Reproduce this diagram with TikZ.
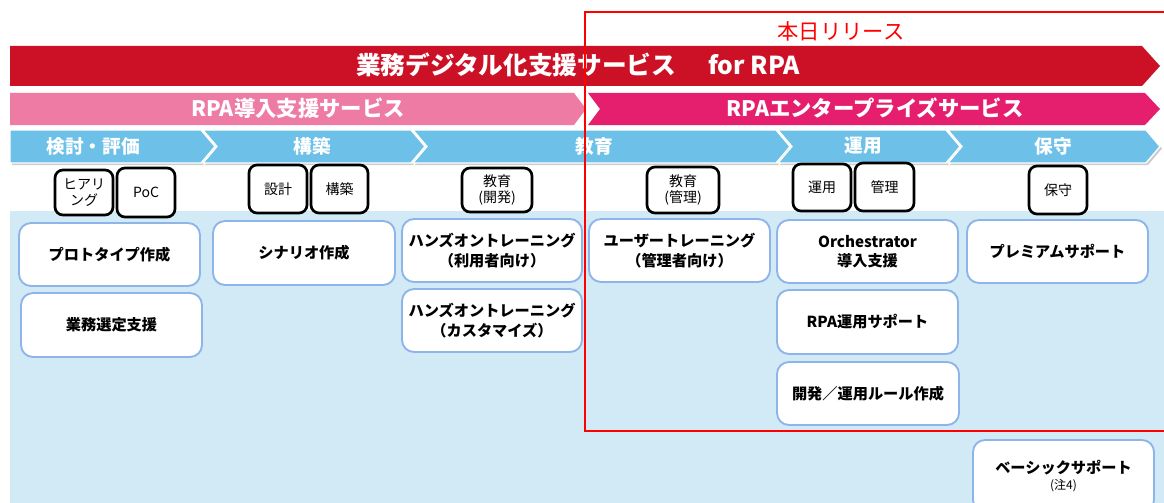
\documentclass[tikz,border=0pt]{standalone}
\usepackage{fontspec}
\setmainfont{Noto Sans CJK JP}
\definecolor{bandred}{HTML}{CC1126}
\definecolor{bandpink}{HTML}{EE7BA4}
\definecolor{bandmag}{HTML}{E51F6D}
\definecolor{chevblue}{HTML}{6DC0E8}
\definecolor{areablue}{HTML}{D1EAF6}
\definecolor{boxline}{HTML}{8EB5EA}
\definecolor{relred}{HTML}{FF0000}
\tikzset{
  bandtext/.style={text=white, font=\bfseries\fontsize{18.5}{20}\selectfont, inner sep=0pt},
  subtext/.style={text=white, font=\bfseries\fontsize{16}{18}\selectfont, inner sep=0pt},
  chevtext/.style={text=white, font=\bfseries\fontsize{14}{16}\selectfont, inner sep=0pt},
  chev/.style={fill=chevblue, draw=white, line width=1pt},
  chevshadow/.style={fill=black!20},
  wbox/.style={draw=boxline, fill=white, line width=1.4pt, rounded corners=9pt, inner sep=0pt, outer sep=0pt, align=center, font=\bfseries\fontsize{11.4}{14.5}\selectfont},
  kbox/.style={draw=black, fill=white, line width=2pt, rounded corners=6pt, inner sep=0pt, outer sep=0pt, align=center, font=\fontsize{10.5}{12}\selectfont},
}
\newcommand\wbox[6]{\node[wbox, minimum width={(#4-#2)*0.75pt}, minimum height={(#5-#3)*0.75pt}] (#1) at ({(#2+#4)/2},{(#3+#5)/2}) {#6};}
\newcommand\kbox[6]{\node[kbox, minimum width={(#4-#2)*0.75pt}, minimum height={(#5-#3)*0.75pt}] (#1) at ({(#2+#4)/2},{(#3+#5)/2}) {#6};}
\begin{document}
\begin{tikzpicture}[x=0.75pt,y=-0.75pt]
\useasboundingbox (0,0) rectangle (1164,503);
\fill[white] (0,0) rectangle (1164,503);
% light blue area
\fill[areablue] (10,211) rectangle (1164,503);
% main red band
\fill[bandred] (10,46) -- (1142,46) -- (1160,66) -- (1142,86) -- (10,86) -- cycle;
\node[bandtext] (title) at (578,65) {業務デジタル化支援サービス\hspace{1.3em}for RPA};
% pink and magenta bands
\fill[bandpink] (10,93) -- (574,93) -- (586,109) -- (574,125) -- (10,125) -- cycle;
\node[subtext] (intro) at (298,108) {RPA導入支援サービス};
\fill[bandmag] (588,93) -- (1145,93) -- (1160,109) -- (1145,125) -- (588,125) -- (600,109) -- cycle;
\node[subtext] (ent) at (875,108) {RPAエンタープライズサービス};
% blue chevrons (shadows)
\begin{scope}[shift={(2,2)}]
\fill[chevshadow] (10,130) -- (201,130) -- (215,146.5) -- (201,163) -- (10,163) -- cycle;
\fill[chevshadow] (203,130) -- (411,130) -- (425,146.5) -- (411,163) -- (203,163) -- (217,146.5) -- cycle;
\fill[chevshadow] (413,130) -- (776,130) -- (790,146.5) -- (776,163) -- (413,163) -- (427,146.5) -- cycle;
\fill[chevshadow] (778,130) -- (946,130) -- (960,146.5) -- (946,163) -- (778,163) -- (792,146.5) -- cycle;
\fill[chevshadow] (948,130) -- (1146,130) -- (1160,146.5) -- (1146,163) -- (948,163) -- (962,146.5) -- cycle;
\end{scope}
\path[chev] (10,130) -- (201,130) -- (215,146.5) -- (201,163) -- (10,163) -- cycle;
\path[chev] (203,130) -- (411,130) -- (425,146.5) -- (411,163) -- (203,163) -- (217,146.5) -- cycle;
\path[chev] (413,130) -- (776,130) -- (790,146.5) -- (776,163) -- (413,163) -- (427,146.5) -- cycle;
\path[chev] (778,130) -- (946,130) -- (960,146.5) -- (946,163) -- (778,163) -- (792,146.5) -- cycle;
\path[chev] (948,130) -- (1146,130) -- (1160,146.5) -- (1146,163) -- (948,163) -- (962,146.5) -- cycle;
\node[chevtext] (c1) at (93,146) {検討・評価};
\node[chevtext] (c2) at (312,146) {構築};
\node[chevtext] (c3) at (594,146) {教育};
\node[chevtext] (c4) at (863,146) {運用};
\node[chevtext] (c5) at (1053,146) {保守};
% small black boxes
\kbox{k1}{55}{170}{113}{215}{ヒアリ\\ング}
\kbox{k2}{117}{168}{175}{217}{PoC}
\kbox{k3}{249}{165}{307}{213}{設計}
\kbox{k4}{311}{165}{368}{213}{構築}
\kbox{k5}{462}{168}{532}{212}{教育\\(開発)}
\kbox{k6}{647}{167}{719}{213}{教育\\(管理)}
\kbox{k7}{793}{164}{851}{211}{運用}
\kbox{k8}{855}{163}{914}{211}{管理}
\kbox{k9}{1029}{166}{1087}{214}{保守}
% white boxes
\wbox{w1}{19}{223}{200}{286}{プロトタイプ作成}
\wbox{w2}{21}{293}{202}{357}{業務選定支援}
\wbox{w3}{213}{221}{395}{285}{シナリオ作成}
\wbox{w4}{402}{219}{582}{282}{ハンズオントレーニング\\（利用者向け）}
\wbox{w5}{402}{289}{582}{352}{ハンズオントレーニング\\（カスタマイズ）}
\wbox{w6}{589}{219}{770}{282}{ユーザートレーニング\\（管理者向け）}
\wbox{w7}{777}{220}{958}{283}{Orchestrator\\導入支援}
\wbox{w8}{777}{290}{958}{354}{RPA運用サポート}
\wbox{w9}{777}{362}{959}{425}{開発／運用ルール作成}
\wbox{w10}{967}{220}{1148}{283}{プレミアムサポート}
\wbox{w11}{973}{440}{1154}{512}{ベーシックサポート\\[-2pt]{\mdseries\fontsize{9}{10}\selectfont (注4)}}
% release frame
\draw[relred, line width=1.6pt] (1170,12) -- (585,12) -- (585,431) -- (1170,431);
\node[text=relred, font=\fontsize{16}{18}\selectfont, inner sep=0pt] (rel) at (841,31) {本日リリース};
\end{tikzpicture}
\end{document}
